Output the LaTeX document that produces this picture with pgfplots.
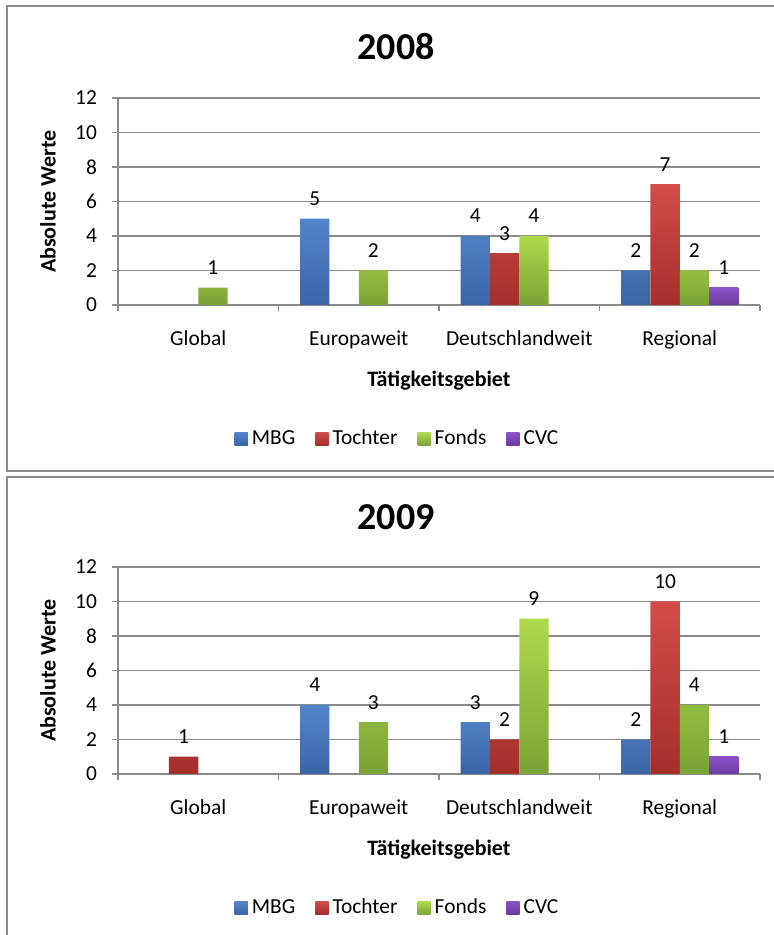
\documentclass[border=0pt]{standalone}
\usepackage{pgfplots}
\pgfplotsset{compat=1.18}
\usepackage{fontspec}
\setmainfont{Carlito}
\definecolor{mbgT}{HTML}{5286C9}
\definecolor{mbgB}{HTML}{3A65A6}
\definecolor{tocT}{HTML}{D44C48}
\definecolor{tocB}{HTML}{A32F2C}
\definecolor{fonT}{HTML}{AEDA4A}
\definecolor{fonB}{HTML}{7AA336}
\definecolor{cvcT}{HTML}{8C52C8}
\definecolor{cvcB}{HTML}{6B3A9E}
\definecolor{axgray}{HTML}{8A8A8A}
\newcommand{\tf}{\fontsize{10.7pt}{12pt}\selectfont}
\pgfplotsset{
  mystyle/.style={
    ybar=0pt, bar width=14.65pt,
    scale only axis, width=321pt, height=103.5pt,
    xmin=-0.5, xmax=3.5, ymin=0, ymax=12,
    ytick={0,2,...,12},
    xtick={0,1,2,3},
    xticklabels={Global,Europaweit,Deutschlandweit,Regional},
    minor xtick={-0.5,0.5,1.5,2.5,3.5},
    tick align=outside, major tick length=3pt, minor tick length=3pt,
    every tick/.append style={axgray, line width=0.6pt},
    every major x tick/.append style={draw=none},
    axis x line*=bottom, axis y line*=left,
    axis line style={draw=axgray, line width=0.6pt},
    ymajorgrids, grid style={axgray, line width=0.6pt},
    /pgf/number format/assume math mode=true,
    tick label style={font=\tf, text=black},
    xticklabel style={yshift=-6.5pt},
    yticklabel style={xshift=-4pt},
    xlabel={Tätigkeitsgebiet}, ylabel={Absolute Werte},
    label style={font=\fontsize{11pt}{12pt}\selectfont\bfseries},
    xlabel style={at={(axis description cs:0.5,-0.367)}, anchor=center},
    ylabel style={at={(axis description cs:-0.109,0.5)}, anchor=center},
    nodes near coords, point meta=y,
    every node near coord/.append style={font=\tf, text=black, yshift=3pt},
    legend image code/.code={\path[##1, draw=none] (0pt,-3.3pt) rectangle (6.6pt,3.3pt);},
    legend style={at={(axis description cs:0.437,-0.647)}, anchor=center,
      draw=none, fill=none, font=\tf, legend columns=4,
      /tikz/every even column/.append style={column sep=8pt}},
  }
}
\begin{document}
\begin{tikzpicture}
\useasboundingbox (0,0) rectangle (386.5pt,467.5pt);
% frames
\draw[axgray, line width=0.9pt] (390pt,464.5pt) -- (3.5pt,464.5pt) -- (3.5pt,232pt) -- (390pt,232pt);
\draw[axgray, line width=0.9pt] (390pt,229pt) -- (3.5pt,229pt) -- (3.5pt,-5pt);
\node[font=\fontsize{19pt}{22pt}\selectfont\bfseries] at (198pt,444pt) {2008};
\node[font=\fontsize{19pt}{22pt}\selectfont\bfseries] at (198pt,209pt) {2009};

\begin{axis}[mystyle, at={(59pt,315pt)}, anchor=south west]
\addplot[draw=none, top color=mbgT, bottom color=mbgB] coordinates {(1,5) (2,4) (3,2)};
\addplot[draw=none, top color=tocT, bottom color=tocB] coordinates {(2,3) (3,7)};
\addplot[draw=none, top color=fonT, bottom color=fonB] coordinates {(0,1) (1,2) (2,4) (3,2)};
\addplot[draw=none, top color=cvcT, bottom color=cvcB] coordinates {(3,1)};
\legend{MBG,Tochter,Fonds,CVC}
\end{axis}

\begin{axis}[mystyle, at={(59pt,80.5pt)}, anchor=south west]
\addplot[draw=none, top color=mbgT, bottom color=mbgB] coordinates {(1,4) (2,3) (3,2)};
\addplot[draw=none, top color=tocT, bottom color=tocB] coordinates {(0,1) (2,2) (3,10)};
\addplot[draw=none, top color=fonT, bottom color=fonB] coordinates {(1,3) (2,9) (3,4)};
\addplot[draw=none, top color=cvcT, bottom color=cvcB] coordinates {(3,1)};
\legend{MBG,Tochter,Fonds,CVC}
\end{axis}
\end{tikzpicture}
\end{document}
